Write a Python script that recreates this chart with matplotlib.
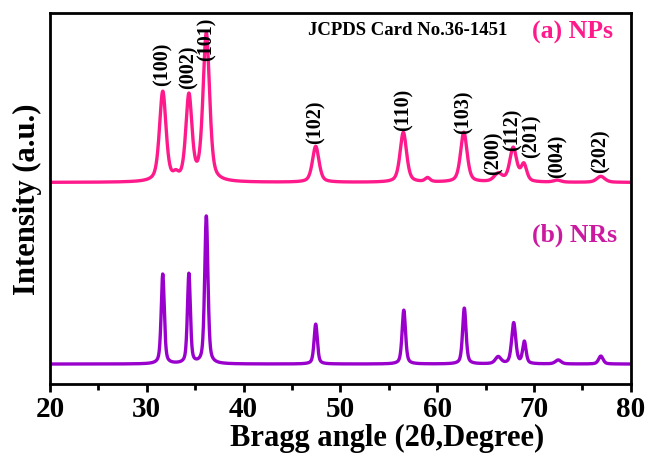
import matplotlib.pyplot as plt
import numpy as np

plt.rcParams['font.family'] = ['Liberation Serif', 'DejaVu Serif']
plt.rcParams['font.weight'] = 'bold'

# peak tables (2theta, height above baseline, FWHM)
np_pos = [31.65, 33.0, 34.35, 36.15, 47.45, 56.5, 59.0, 62.75, 66.3, 67.85, 68.95, 72.4, 76.9]
np_height = [90, 5, 85, 148, 36, 50, 4, 50, 8, 34, 17, 2, 6]
np_width = [0.8, 0.6, 0.75, 0.8, 0.8, 0.8, 0.6, 0.8, 1.0, 0.85, 0.7, 0.9, 1.0]

nr_pos = [31.65, 34.35, 36.15, 47.45, 56.55, 62.8, 66.3, 67.9, 69.0, 72.5, 76.9]
nr_height = [90, 90, 148, 40, 54, 56, 7, 41, 22, 4, 8]
nr_width = [0.38, 0.36, 0.4, 0.4, 0.42, 0.42, 0.7, 0.5, 0.42, 0.7, 0.55]

np_offset = 182
nr_offset = 0

hkl = ['(100)', '(002)', '(101)', '(102)', '(110)', '(103)', '(200)', '(112)', '(201)', '(004)', '(202)']
hkl_x = [31.65, 34.35, 36.2, 47.45, 56.5, 62.75, 65.85, 67.75, 69.7, 72.4, 76.9]
hkl_y = [280, 277, 305, 222, 235, 232, 190, 215, 207, 187, 192]


def profile(x, pos, height, width, eta=0.5):
    y = np.zeros_like(x)
    for p, h, w in zip(pos, height, width):
        d = (x - p) / (w / 2)
        y += h * (eta / (1 + d ** 2) + (1 - eta) * np.exp(-np.log(2) * d ** 2))
    return y


x = np.linspace(20, 80, 3000)
y_np = profile(x, np_pos, np_height, np_width) + np_offset
y_nr = profile(x, nr_pos, nr_height, nr_width) + nr_offset

fig = plt.figure(figsize=(6.49, 4.6), dpi=100)
ax = fig.add_axes([0.077, 0.163, 0.895, 0.807])

ax.plot(x, y_np, color='#ff1a8c', lw=2.4)
ax.plot(x, y_nr, color='#9900cc', lw=2.4)

for lab, lx, ly in zip(hkl, hkl_x, hkl_y):
    ax.text(lx, ly, lab, rotation=90, ha='center', va='bottom', fontsize=14.5, fontweight='bold')

ax.text(0.445, 0.955, 'JCPDS Card No.36-1451', transform=ax.transAxes, ha='left', va='center',
        fontsize=13.5, fontweight='bold')
ax.text(0.83, 0.95, '(a) NPs', transform=ax.transAxes, ha='left', va='center',
        fontsize=18.5, fontweight='bold', color='#ff1a8c')
ax.text(0.83, 0.403, '(b) NRs', transform=ax.transAxes, ha='left', va='center',
        fontsize=18.5, fontweight='bold', color='#cc1aa0')

ax.set_xlim(20, 80)
ax.set_ylim(-20, 352)
ax.set_xticks(np.arange(20, 81, 10))
ax.set_xticks(np.arange(25, 80, 10), minor=True)
ax.set_yticks([])
ax.tick_params(axis='x', which='major', direction='out', length=6, width=2, labelsize=21, pad=2)
ax.tick_params(axis='x', which='minor', direction='out', length=4, width=2)
for lab in ax.get_xticklabels():
    lab.set_fontweight('bold')
for s in ax.spines.values():
    s.set_linewidth(2)

ax.set_xlabel('Bragg angle (2θ,Degree)', fontsize=22, fontweight='bold', labelpad=0)
ax.xaxis.set_label_coords(0.58, -0.105)
ax.set_ylabel('Intensity (a.u.)', fontsize=22, fontweight='bold', labelpad=6)

plt.savefig('out.png', dpi=100)
